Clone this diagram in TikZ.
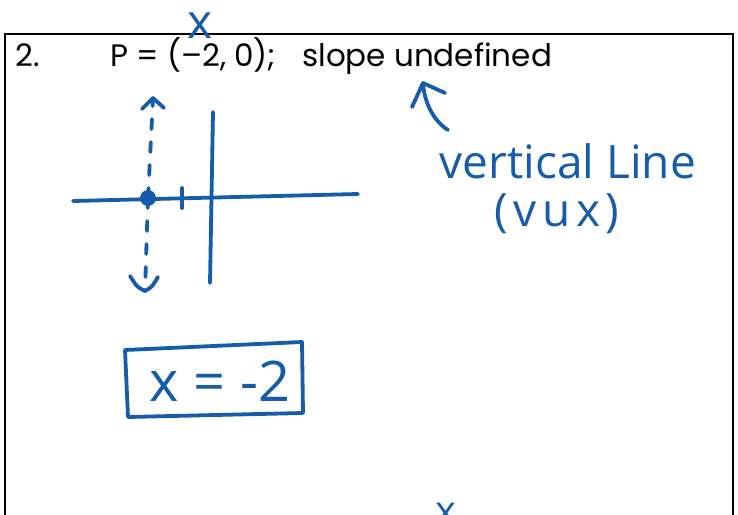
\documentclass[tikz,border=0pt]{standalone}
\usepackage{fontspec}
\setmainfont{Poppins}
\newfontfamily\hand{Open Sans}
\usetikzlibrary{arrows.meta}
\definecolor{ink}{RGB}{22,92,170}
\begin{document}
\begin{tikzpicture}[x=1pt,y=-1pt,
  pen/.style={draw=ink, line width=3.8pt, line cap=round, line join=round},
  dashpen/.style={pen, dash pattern=on 10pt off 13pt},
  printed/.style={font=\fontsize{31}{34}\selectfont, text=black, inner sep=0pt, anchor=base west},
  handtxt/.style={text=ink, inner sep=0pt, anchor=base}]
\useasboundingbox (0,0) rectangle (738,514);
\clip (0,0) rectangle (738,514);
\fill[white] (0,0) rectangle (738,514);
% frame
\coordinate (fbl) at (5,520); \coordinate (ftl) at (5,34);
\coordinate (ftr) at (733,34); \coordinate (fbr) at (733,520);
\draw[line width=1.8pt] (fbl) -- (ftl) -- (ftr) -- (fbr);
% printed text
\node[printed] (num) at (15,66) {2.};
\node[printed] (pt) at (110,66) {P = (–2, 0);};
\node[printed] (slope) at (302,66) {slope undefined};
% top handwritten x
\node[handtxt, font=\hand\fontsize{48}{52}\selectfont] (topx) at (200,38) {x};
% arrow to "undefined"
\coordinate (atip) at (423,83);
\coordinate (atail) at (448,130);
\coordinate (abl) at (412,107);
\coordinate (abr) at (445,93);
\draw[pen] (atail) .. controls (432,120) and (424,100) .. (atip);
\draw[pen] (abl) -- (atip) -- (abr);
% handwritten note
\node[handtxt, font=\hand\fontsize{46}{50}\selectfont] (vl) at (568,178) {vertical Line};
\node[handtxt, font=\hand\fontsize{46}{50}\selectfont\addfontfeature{LetterSpace=12}] (vux) at (557,226) {(vux)};
% axes
\coordinate (hl) at (73,201); \coordinate (hr) at (358,194);
\coordinate (vt) at (213,112); \coordinate (vb) at (210,283);
\draw[pen] (hl) -- (hr);
\draw[pen] (vt) -- (vb);
\coordinate (tkt) at (182,188); \coordinate (tkb) at (182,208);
\draw[pen] (tkt) -- (tkb);
% point and dashed vertical line
\node[circle, fill=ink, minimum size=16pt, inner sep=0pt] (P) at (148,198) {};
\coordinate (up) at (153,98);
\coordinate (dn) at (145,291);
\draw[dashpen] (P.center) -- (up);
\draw[dashpen] (P.center) -- (dn);
\coordinate (ul) at (142,109); \coordinate (ur) at (164,108);
\draw[pen] (ul) -- (up) -- (ur);
\coordinate (dl) at (130,276); \coordinate (dr) at (158,277);
\draw[pen] (dl) .. controls (137,287) .. (dn) .. controls (152,287) .. (dr);
% boxed answer
\coordinate (b1) at (125,350); \coordinate (b2) at (302,342);
\coordinate (b3) at (303,413); \coordinate (b4) at (128,417);
\draw[pen] (b1) -- (b2) -- (b3) -- (b4) -- cycle;
\node[handtxt, font=\hand\fontsize{56}{60}\selectfont] (ans) at (220,401) {x = -2};
% bottom partial x
\node[handtxt, font=\hand\fontsize{40}{44}\selectfont] (botx) at (446,524) {x};
\end{tikzpicture}
\end{document}
